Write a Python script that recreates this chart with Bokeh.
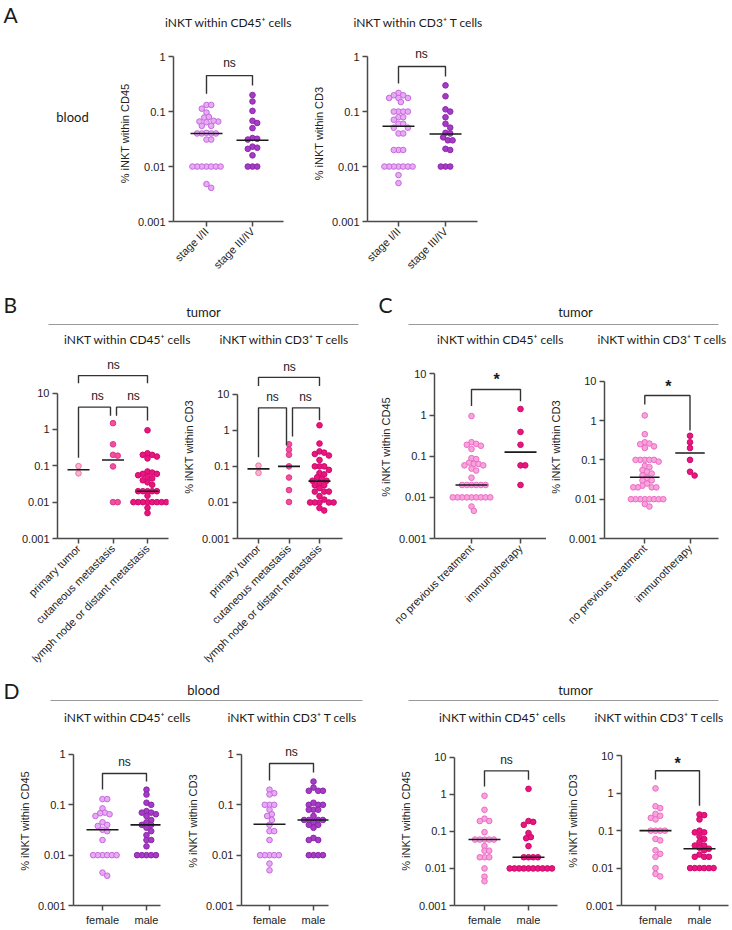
import math
from bokeh.plotting import figure
from bokeh.layouts import row, column
from bokeh.models import Range1d, FixedTicker
from bokeh.core.properties import value
from bokeh.embed import file_html
from bokeh.resources import INLINE

# ---------------- categories / tick labels ----------------
stage_cats = ["stage I/II", "stage III/IV"]
site_cats = ["primary tumor", "cutaneous metastasis", "lymph node or distant metastasis"]
treat_cats = ["no previous treatment", "immunotherapy"]
sex_cats = ["female", "male"]
ticks_to_1 = [0.001, 0.01, 0.1, 1]
ticks_to_10 = [0.001, 0.01, 0.1, 1, 10]
tick_text = {0.001: "0.001", 0.01: "0.01", 0.1: "0.1", 1: "1", 10: "10"}

# ---------------- A: blood, by stage ----------------
a45_stage12 = [0.132, 0.132, 0.113, 0.096, 0.078, 0.08, 0.066, 0.066, 0.064, 0.068, 0.055, 0.055,
               0.041, 0.04, 0.04, 0.04, 0.04, 0.031, 0.031,
               0.01, 0.01, 0.01, 0.01, 0.01, 0.01, 0.01, 0.0048, 0.0041]
a45_stage34 = [0.2, 0.153, 0.103, 0.068, 0.062, 0.05, 0.033, 0.032, 0.031, 0.023, 0.021, 0.022,
               0.016, 0.01, 0.01, 0.01]
a45_medians = [0.04, 0.03]
a3_stage12 = [0.219, 0.198, 0.198, 0.177, 0.177, 0.177, 0.149, 0.1, 0.1, 0.1, 0.1, 0.079, 0.079,
              0.071, 0.06, 0.06, 0.051, 0.051, 0.04, 0.04, 0.02, 0.02, 0.02,
              0.01, 0.01, 0.01, 0.01, 0.01, 0.01, 0.01, 0.007, 0.005]
a3_stage34 = [0.30, 0.19, 0.11, 0.1, 0.079, 0.06, 0.051, 0.041, 0.04, 0.034, 0.03, 0.03, 0.021,
              0.02, 0.01, 0.01, 0.01]
a3_medians = [0.054, 0.039]

# ---------------- B: tumor, by site ----------------
b45_primary = [0.098, 0.062]
b45_cutaneous = [1.49, 0.39, 0.2, 0.19, 0.096, 0.01, 0.01]
b45_lymph = [0.95, 0.22, 0.2, 0.2, 0.18, 0.16, 0.07, 0.065, 0.06, 0.06, 0.055, 0.05, 0.045, 0.04,
             0.035, 0.03, 0.02, 0.02, 0.02, 0.02, 0.02, 0.015,
             0.01, 0.01, 0.01, 0.01, 0.01, 0.01, 0.01, 0.01, 0.007, 0.005]
b45_medians = [0.078, 0.144, 0.02]
b3_primary = [0.105, 0.066]
b3_cutaneous = [0.41, 0.29, 0.21, 0.1, 0.049, 0.022, 0.0103]
b3_lymph = [1.38, 0.43, 0.26, 0.24, 0.22, 0.2, 0.15, 0.1, 0.1, 0.1, 0.08, 0.065, 0.06, 0.05, 0.045,
            0.04, 0.04, 0.035, 0.03, 0.03, 0.025, 0.02, 0.02, 0.02, 0.015, 0.012,
            0.01, 0.01, 0.01, 0.01, 0.01, 0.007, 0.006]
b3_medians = [0.085, 0.1, 0.039]

# ---------------- C: tumor, by treatment ----------------
c45_none = [0.95, 0.22, 0.2, 0.19, 0.18, 0.15, 0.09, 0.085, 0.07, 0.065, 0.065, 0.06, 0.06, 0.05,
            0.045, 0.03, 0.02, 0.02, 0.02, 0.02, 0.02, 0.02,
            0.01, 0.01, 0.01, 0.01, 0.01, 0.01, 0.01, 0.01, 0.01, 0.006, 0.0047]
c45_immuno = [1.41, 0.39, 0.19, 0.06, 0.06, 0.02]
c45_medians = [0.02, 0.126]
c3_none = [1.35, 0.45, 0.28, 0.26, 0.25, 0.22, 0.2, 0.1, 0.1, 0.1, 0.1, 0.1, 0.09, 0.07, 0.065,
           0.055, 0.05, 0.045, 0.04, 0.035, 0.03, 0.03, 0.025, 0.022, 0.02, 0.02, 0.02, 0.02,
           0.01, 0.01, 0.01, 0.01, 0.01, 0.01, 0.01, 0.01, 0.0075, 0.0065]
c3_immuno = [0.41, 0.28, 0.2, 0.1, 0.05, 0.04]
c3_medians = [0.036, 0.15]

# ---------------- D: by sex ----------------
d45b_female = [0.13, 0.13, 0.085, 0.07, 0.068, 0.065, 0.06, 0.045, 0.04, 0.038, 0.032, 0.03, 0.02,
               0.01, 0.01, 0.01, 0.01, 0.01, 0.01, 0.0045, 0.0039]
d45b_male = [0.2, 0.16, 0.11, 0.1, 0.075, 0.07, 0.07, 0.065, 0.06, 0.05, 0.045, 0.04, 0.04, 0.035,
             0.03, 0.025, 0.02, 0.02, 0.015, 0.01, 0.01, 0.01, 0.01, 0.01]
d45b_medians = [0.032, 0.04]
d3b_female = [0.2, 0.17, 0.16, 0.1, 0.1, 0.1, 0.08, 0.065, 0.06, 0.05, 0.04, 0.03, 0.03, 0.02,
              0.01, 0.01, 0.01, 0.01, 0.01, 0.0068, 0.005]
d3b_male = [0.29, 0.22, 0.19, 0.19, 0.19, 0.11, 0.1, 0.1, 0.1, 0.08, 0.08, 0.08, 0.06, 0.05, 0.05,
            0.05, 0.05, 0.045, 0.04, 0.04, 0.035, 0.022, 0.02, 0.02, 0.01, 0.01, 0.01, 0.01]
d3b_medians = [0.041, 0.05]
d45t_female = [0.91, 0.38, 0.22, 0.19, 0.19, 0.095, 0.06, 0.06, 0.06, 0.06, 0.06, 0.04, 0.03, 0.03,
               0.02, 0.02, 0.02, 0.01, 0.006, 0.0045]
d45t_male = [1.4, 0.19, 0.18, 0.15, 0.09, 0.07, 0.065, 0.04, 0.02, 0.02, 0.02, 0.02,
             0.01, 0.01, 0.01, 0.01, 0.01, 0.01, 0.01, 0.01, 0.01, 0.01]
d45t_medians = [0.06, 0.02]
d3t_female = [1.35, 0.45, 0.4, 0.28, 0.25, 0.22, 0.2, 0.1, 0.1, 0.1, 0.1, 0.06, 0.055, 0.03, 0.024,
              0.02, 0.01, 0.007, 0.006]
d3t_male = [0.27, 0.26, 0.2, 0.1, 0.09, 0.09, 0.07, 0.06, 0.05, 0.04, 0.04, 0.035, 0.033, 0.03,
            0.023, 0.02, 0.02, 0.02, 0.01, 0.01, 0.01, 0.01, 0.01, 0.01]
d3t_medians = [0.1, 0.033]

# ---------------- styles ----------------
TICK_FONT = "Liberation Sans"
HEAD_FONT = "Lato"
AXIS_COLOR = "#4a4a4a"
BLOOD_LIGHT = ("#E9A9F4", "#C46BDE")
BLOOD_DARK = ("#A63CC6", "#8A27AA")
TUM_LIGHT = ("#F7A3DC", "#EC6CC4")
TUM_DARK = ("#E8167F", "#CF0A6C")
SITE_PRIM = ("#F9B3CF", "#EF74A6")
SITE_CUT = ("#F0509C", "#E0368A")
SITE_LYMPH = ("#E8167F", "#CF0A6C")


def swarm(vals, dec, dist=4.7):
    ys = [(math.log10(v) + 3) * dec for v in vals]
    order = sorted(range(len(vals)), key=lambda k: -ys[k])
    cands = [0.0]
    for k in range(1, 60):
        cands += [k * dist / 2, -k * dist / 2]
    placed, offs = [], [0.0] * len(vals)
    for k in order:
        for c in cands:
            if all((c - px) ** 2 + (ys[k] - py) ** 2 >= dist ** 2 - 1e-6 for px, py in placed):
                offs[k] = c
                placed.append((c, ys[k]))
                break
    return offs


def canvas(w, h):
    p = figure(width=w, height=h, x_range=Range1d(0, w), y_range=Range1d(h, 0),
               toolbar_location=None, output_backend="svg", min_border=0,
               x_axis_location=None, y_axis_location=None)
    p.grid.visible = False
    p.outline_line_color = None
    return p


def htext(p, x, y, t, size="12px", align="center", font=HEAD_FONT, style="normal"):
    p.text(x=[x], y=[y], text=[t], text_font=value(font), text_font_size=size,
           text_align=align, text_baseline="middle", text_color="#1a1a1a", text_font_style=style)


def panel(sp, groups, meds, colors, brackets):
    n = len(sp["cats"])
    cx = sp["cat_px"]
    S = (cx[-1] - cx[0]) / (n - 1)
    xs0 = -(cx[0] - sp["frame_l"]) / S
    xs1 = xs0 + (sp["frame_r"] - sp["frame_l"]) / S
    fh = sp["y0"] - sp["frame_t"]
    ytop = 10 ** (-3 + fh / sp["dec"])
    p = figure(width=sp["w"], height=sp["h"], x_range=Range1d(xs0, xs1),
               y_range=Range1d(0.001, ytop), y_axis_type="log",
               toolbar_location=None, output_backend="svg",
               min_border_left=int(sp["frame_l"] - sp["fig_x"]),
               min_border_right=int(sp["fig_x"] + sp["w"] - sp["frame_r"]),
               min_border_top=int(sp["frame_t"] - sp["fig_y"]),
               min_border_bottom=int(round(sp["fig_y"] + sp["h"] - sp["y0"])))
    p.grid.visible = False
    p.outline_line_color = None
    px2x = lambda px: (px - cx[0]) / S
    py2v = lambda py: 10 ** (-3 + (sp["y0"] - py) / sp["dec"])
    for i, (vals, med, (fc, lc)) in enumerate(zip(groups, meds, colors)):
        offs = swarm(vals, sp["dec"])
        p.scatter([i + o / S for o in offs], vals, size=5.6, fill_color=fc,
                  line_color=lc, line_width=1)
        h = sp["med_half"] / S
        p.segment(x0=[i - h], y0=[med], x1=[i + h], y1=[med], line_color="#1a1a1a",
                  line_width=1.6)
    for (xa, xb, top, la, lb, lab, tx, ty) in brackets:
        p.line([px2x(xa), px2x(xa), px2x(xb), px2x(xb)],
               [py2v(la), py2v(top), py2v(top), py2v(lb)], line_color="#333333", line_width=1.4)
        star = lab == "*"
        p.text(x=[px2x(tx)], y=[py2v(ty)], text=[lab], text_font=value(TICK_FONT),
               text_font_size="16px" if star else "12px", text_align="center",
               text_baseline="middle", text_color="#1a1a1a",
               text_font_style="bold" if star else "normal")
    ticks = ticks_to_10 if sp["top"] == 10 else ticks_to_1
    for ax in (p.xaxis[0], p.yaxis[0]):
        ax.axis_line_color = AXIS_COLOR
        ax.axis_line_width = 1.5
        ax.major_tick_line_color = AXIS_COLOR
        ax.major_tick_line_width = 1.5
        ax.major_tick_out = 5
        ax.major_tick_in = 0
        ax.minor_tick_line_color = None
        ax.major_label_text_font = TICK_FONT
        ax.major_label_text_font_size = "11px"
        ax.major_label_text_color = "#222222"
        ax.major_label_standoff = 3
    p.yaxis.ticker = FixedTicker(ticks=ticks)
    p.yaxis.major_label_overrides = {t: tick_text[t] for t in ticks}
    p.yaxis.bounds = (0.001, ticks[-1])
    p.xaxis.ticker = FixedTicker(ticks=list(range(n)))
    p.xaxis.major_label_overrides = {i: c for i, c in enumerate(sp["cats"])}
    if sp["rotate"]:
        p.xaxis.major_label_orientation = math.pi / 4
    if sp["ylabel"]:
        p.yaxis.axis_label = sp["ylabel"]
        p.yaxis.axis_label_text_font = TICK_FONT
        p.yaxis.axis_label_text_font_size = "11px"
        p.yaxis.axis_label_text_font_style = "normal"
        p.yaxis.axis_label_text_color = "#222222"
        p.yaxis.axis_label_standoff = 4
    return p


L45 = "% iNKT within CD45"
L3 = "% iNKT within CD3"
T45 = "iNKT within CD45\u207a cells"
T3 = "iNKT within CD3\u207a T cells"

# ---------------- row A ----------------
hdrA = canvas(732, 35)
htext(hdrA, 3, 14, "A", size="21px", align="left")
htext(hdrA, 228, 22, T45)
htext(hdrA, 418, 22, T3)
leftA = canvas(110, 250)
htext(leftA, 72, 102, "blood", size="13px")

spA1 = dict(fig_x=110, fig_y=35, w=190, h=250, frame_l=173, frame_r=283, frame_t=45, y0=220.5,
            dec=54.8, cat_px=[206, 252], cats=stage_cats, top=1, ylabel=L45, rotate=True, med_half=16)
pA1 = panel(spA1, [a45_stage12, a45_stage34], a45_medians, [BLOOD_LIGHT, BLOOD_DARK],
            [(206, 252, 75, 93, 85, "ns", 229, 62)])
spA2 = dict(fig_x=300, fig_y=35, w=432, h=250, frame_l=367, frame_r=477, frame_t=45, y0=220.5,
            dec=54.8, cat_px=[398, 445], cats=stage_cats, top=1, ylabel=L3, rotate=True, med_half=16)
pA2 = panel(spA2, [a3_stage12, a3_stage34], a3_medians, [BLOOD_LIGHT, BLOOD_DARK],
            [(398, 445, 66, 83, 76, "ns", 421, 53)])

# ---------------- header B / C ----------------
hdrBC = canvas(732, 64)
htext(hdrBC, 3, 19, "B", size="21px", align="left")
htext(hdrBC, 203, 26, "tumor", size="13px")
hdrBC.segment(x0=[48], y0=[39], x1=[358], y1=[39], line_color="#9a9a9a", line_width=1)
htext(hdrBC, 127, 54, T45)
htext(hdrBC, 284, 54, T3)
htext(hdrBC, 378, 19, "C", size="21px", align="left")
htext(hdrBC, 575, 26, "tumor", size="13px")
hdrBC.segment(x0=[408], y0=[39], x1=[718], y1=[39], line_color="#9a9a9a", line_width=1)
htext(hdrBC, 500, 54, T45)
htext(hdrBC, 662, 54, T3)

RY = 349
RB = 677
RH = RB - RY
spB1 = dict(fig_x=0, fig_y=RY, w=175, h=RH, frame_l=57, frame_r=168, frame_t=355, y0=546.3,
            dec=38, cat_px=[78, 113, 147], cats=site_cats, top=10, ylabel=None, rotate=True, med_half=11)
pB1 = panel(spB1, [b45_primary, b45_cutaneous, b45_lymph], b45_medians,
            [SITE_PRIM, SITE_CUT, SITE_LYMPH],
            [(78, 147, 376, 384, 384, "ns", 113, 365),
             (78, 110, 409, 462, 418, "ns", 97, 397),
             (116, 147, 409, 418, 423, "ns", 133, 397)])
spB2 = dict(fig_x=175, fig_y=RY, w=191, h=RH, frame_l=237, frame_r=342, frame_t=355, y0=547.3,
            dec=37.9, cat_px=[258, 289, 319], cats=site_cats, top=10, ylabel=L3, rotate=True, med_half=11)
pB2 = panel(spB2, [b3_primary, b3_cutaneous, b3_lymph], b3_medians,
            [SITE_PRIM, SITE_CUT, SITE_LYMPH],
            [(258, 319, 378, 387, 387, "ns", 289, 367),
             (258, 286, 410, 462, 449, "ns", 272, 399),
             (292, 319, 410, 440, 423, "ns", 305, 399)])
spC1 = dict(fig_x=366, fig_y=RY, w=180, h=RH, frame_l=434, frame_r=546, frame_t=355, y0=543.2,
            dec=42.3, cat_px=[471, 520], cats=treat_cats, top=10, ylabel=L45, rotate=True, med_half=16)
pC1 = panel(spC1, [c45_none, c45_immuno], c45_medians, [TUM_LIGHT, TUM_DARK],
            [(471, 520, 390, 407, 402, "*", 496, 380)])
spC2 = dict(fig_x=546, fig_y=RY, w=186, h=RH, frame_l=602, frame_r=718, frame_t=355, y0=537.9,
            dec=39.3, cat_px=[643, 689], cats=treat_cats, top=10, ylabel=L3, rotate=True, med_half=15)
pC2 = panel(spC2, [c3_none, c3_immuno], c3_medians, [TUM_LIGHT, TUM_DARK],
            [(643, 689, 395, 404, 430, "*", 667, 386)])

# ---------------- header D ----------------
DY = 731
hdrD = canvas(732, DY - RB)
off = RB - 680
htext(hdrD, 3, 13, "D", size="21px", align="left")
htext(hdrD, 203, 9 - off, "blood", size="13px")
hdrD.segment(x0=[50], y0=[20 - off], x1=[362], y1=[20 - off], line_color="#9a9a9a", line_width=1)
htext(hdrD, 127, 37 - off, T45)
htext(hdrD, 292, 37 - off, T3)
htext(hdrD, 575, 9 - off, "tumor", size="13px")
hdrD.segment(x0=[408], y0=[20 - off], x1=[718], y1=[20 - off], line_color="#9a9a9a", line_width=1)
htext(hdrD, 502, 37 - off, T45)
htext(hdrD, 659, 37 - off, T3)

DH = 930 - DY
spD1 = dict(fig_x=0, fig_y=DY, w=170, h=DH, frame_l=73, frame_r=160, frame_t=736, y0=905.2,
            dec=50.4, cat_px=[102, 146], cats=sex_cats, top=1, ylabel=L45, rotate=False, med_half=16)
pD1 = panel(spD1, [d45b_female, d45b_male], d45b_medians, [BLOOD_LIGHT, BLOOD_DARK],
            [(102, 146, 773, 789, 781, "ns", 124, 762)])
spD2 = dict(fig_x=170, fig_y=DY, w=196, h=DH, frame_l=241, frame_r=328, frame_t=736, y0=905.2,
            dec=50.4, cat_px=[269, 313], cats=sex_cats, top=1, ylabel=L3, rotate=False, med_half=16)
pD2 = panel(spD2, [d3b_female, d3b_male], d3b_medians, [BLOOD_LIGHT, BLOOD_DARK],
            [(269, 313, 763, 780, 772, "ns", 291, 752)])
spD3 = dict(fig_x=366, fig_y=DY, w=194, h=DH, frame_l=454, frame_r=557, frame_t=736, y0=908.3,
            dec=37.8, cat_px=[484, 528], cats=sex_cats, top=10, ylabel=L45, rotate=False, med_half=16)
pD3 = panel(spD3, [d45t_female, d45t_male], d45t_medians, [TUM_LIGHT, TUM_DARK],
            [(484, 528, 771, 787, 780, "ns", 506, 760)])
spD4 = dict(fig_x=560, fig_y=DY, w=172, h=DH, frame_l=621, frame_r=728, frame_t=736, y0=909,
            dec=38.3, cat_px=[655, 699], cats=sex_cats, top=10, ylabel=L3, rotate=False, med_half=16)
pD4 = panel(spD4, [d3t_female, d3t_male], d3t_medians, [TUM_LIGHT, TUM_DARK],
            [(655, 699, 771, 780, 807, "*", 677, 764)])

layout = column(hdrA, row(leftA, pA1, pA2), hdrBC, row(pB1, pB2, pC1, pC2), hdrD,
                row(pD1, pD2, pD3, pD4))
open("out.html", "w").write(file_html(layout, INLINE))
